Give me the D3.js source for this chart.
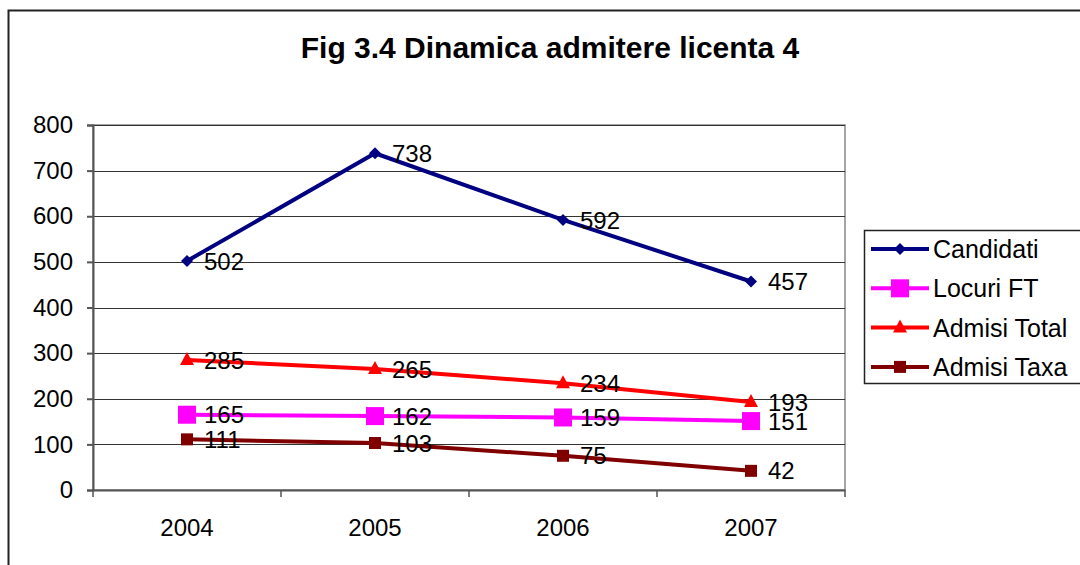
<!DOCTYPE html>
<html>
<head>
<meta charset="utf-8">
<script src="https://cdn.jsdelivr.net/npm/d3@7"></script>
<style>
  body { margin: 0; background: #fff; }
  text { font-family: "Liberation Sans", Arial, sans-serif; }
</style>
</head>
<body>
<svg id="chart" width="1080" height="565"></svg>
<script>
// data
var years = ["2004", "2005", "2006", "2007"];
var candidati = [502, 738, 592, 457];
var locuriFT = [165, 162, 159, 151];
var admisiTotal = [285, 265, 234, 193];
var admisiTaxa = [111, 103, 75, 42];
var yTicks = [0, 100, 200, 300, 400, 500, 600, 700, 800];

var series = [
  {name: "Candidati", values: candidati, color: "#000080", marker: "diamond"},
  {name: "Locuri FT", values: locuriFT, color: "#ff00ff", marker: "bigsquare"},
  {name: "Admisi Total", values: admisiTotal, color: "#ff0000", marker: "triangle"},
  {name: "Admisi Taxa", values: admisiTaxa, color: "#800000", marker: "square"}
];

var svg = d3.select("#chart");

// outer frame
svg.append("rect")
    .attr("x", 8.5).attr("y", 10.5)
    .attr("width", 1100).attr("height", 600)
    .attr("fill", "none").attr("stroke", "#222").attr("stroke-width", 2);

svg.append("text")
    .attr("x", 550).attr("y", 58)
    .attr("text-anchor", "middle")
    .style("font-size", "30px").style("font-weight", "bold")
    .text("Fig 3.4 Dinamica admitere licenta 4");

var pLeft = 93, pRight = 845, pTop = 125, pBottom = 490;

var x = d3.scaleBand().domain(years).range([pLeft, pRight]);
var y = d3.scaleLinear().domain([0, 800]).range([pBottom, pTop]);

// plot area border
svg.append("rect")
    .attr("x", pLeft).attr("y", pTop)
    .attr("width", pRight - pLeft).attr("height", pBottom - pTop)
    .attr("fill", "none").attr("stroke", "#888").attr("stroke-width", 1.5);

// gridlines
svg.append("g").selectAll("line")
    .data(yTicks.slice(1))
    .enter().append("line")
    .attr("x1", pLeft).attr("x2", pRight)
    .attr("y1", function(d) { return Math.round(y(d)) + 0.5; })
    .attr("y2", function(d) { return Math.round(y(d)) + 0.5; })
    .attr("stroke", "#333").attr("stroke-width", 1);

// y axis
var yAxis = svg.append("g")
    .attr("transform", "translate(" + pLeft + ",0)")
    .call(d3.axisLeft(y).tickValues(yTicks).tickSize(6).tickPadding(14));
yAxis.selectAll("text").style("font-size", "24px").attr("fill", "#000");
yAxis.selectAll("line, path").attr("stroke", "#555").attr("stroke-width", 2);

// x axis with ticks between categories
var xAxis = svg.append("g")
    .attr("transform", "translate(0," + pBottom + ")")
    .call(d3.axisBottom(x).tickSize(0).tickPadding(29));
xAxis.selectAll("text").style("font-size", "24px").attr("fill", "#000");
xAxis.select("path").attr("stroke", "#555").attr("stroke-width", 2);
xAxis.selectAll(".sep")
    .data(years.concat(["end"]))
    .enter().append("line")
    .attr("x1", function(d, i) { return pLeft + i * x.bandwidth(); })
    .attr("x2", function(d, i) { return pLeft + i * x.bandwidth(); })
    .attr("y1", 0).attr("y2", 7)
    .attr("stroke", "#555").attr("stroke-width", 1.5);

function cx(i) { return x(years[i]) + x.bandwidth() / 2; }

function drawMarker(g, type, color, px, py) {
  if (type === "diamond") {
    g.append("path")
      .attr("d", "M" + px + "," + (py - 6) + "L" + (px + 6) + "," + py + "L" + px + "," + (py + 6) + "L" + (px - 6) + "," + py + "Z")
      .attr("fill", color);
  } else if (type === "bigsquare") {
    g.append("rect").attr("x", px - 9).attr("y", py - 9).attr("width", 18).attr("height", 18).attr("fill", color);
  } else if (type === "square") {
    g.append("rect").attr("x", px - 6).attr("y", py - 6).attr("width", 12).attr("height", 12).attr("fill", color);
  } else {
    g.append("path")
      .attr("d", "M" + px + "," + (py - 8) + "L" + (px + 7) + "," + (py + 5) + "L" + (px - 7) + "," + (py + 5) + "Z")
      .attr("fill", color);
  }
}

var line = d3.line()
    .x(function(d, i) { return cx(i); })
    .y(function(d) { return y(d); });

series.forEach(function(s) {
  var g = svg.append("g");
  g.append("path")
      .attr("d", line(s.values))
      .attr("fill", "none")
      .attr("stroke", s.color)
      .attr("stroke-width", 4);
  s.values.forEach(function(v, i) {
    drawMarker(g, s.marker, s.color, cx(i), y(v));
  });
});

// value labels on top
series.forEach(function(s) {
  svg.append("g").selectAll("text")
    .data(s.values)
    .enter().append("text")
    .attr("x", function(d, i) { return cx(i) + 17; })
    .attr("y", function(d) { return y(d); })
    .attr("dy", "0.36em")
    .style("font-size", "24px")
    .attr("fill", "#000")
    .text(function(d) { return d; });
});

// legend
var lg = svg.append("g");
lg.append("rect")
    .attr("x", 864.5).attr("y", 230.5)
    .attr("width", 240).attr("height", 153)
    .attr("fill", "#fff").attr("stroke", "#222").attr("stroke-width", 1.5);
series.forEach(function(s, i) {
  var ly = 249 + i * 39.3;
  lg.append("line")
      .attr("x1", 871).attr("x2", 929)
      .attr("y1", ly).attr("y2", ly)
      .attr("stroke", s.color).attr("stroke-width", 4);
  drawMarker(lg, s.marker, s.color, 900, ly);
  lg.append("text")
      .attr("x", 933).attr("y", ly)
      .attr("dy", "0.36em")
      .style("font-size", "25px")
      .text(s.name);
});
</script>
</body>
</html>
